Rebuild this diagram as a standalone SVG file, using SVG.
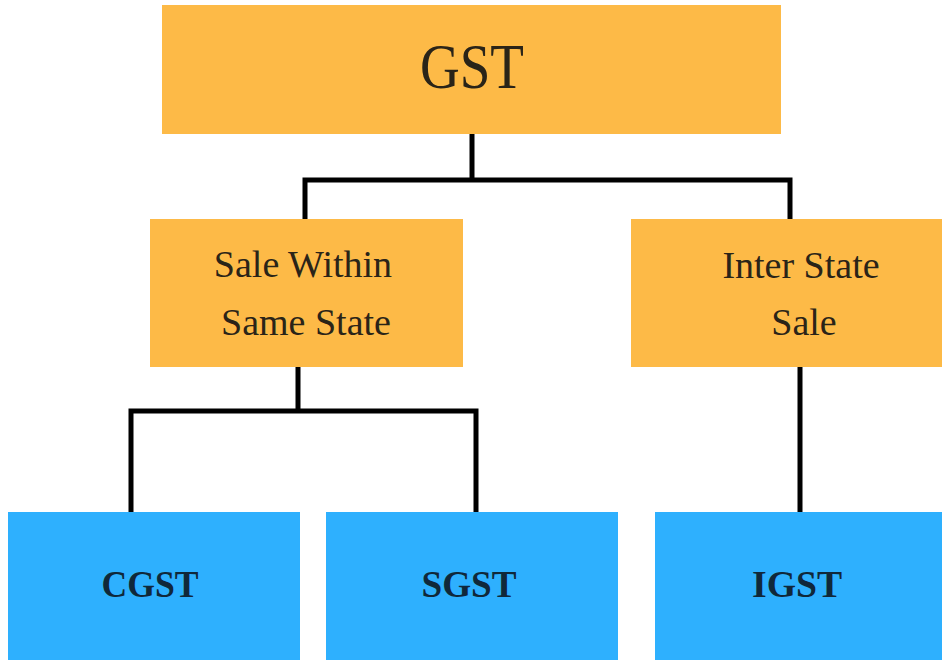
<svg xmlns="http://www.w3.org/2000/svg" width="942" height="660" viewBox="0 0 942 660">
<style>
.orange{fill:#FDBA47}
.blue{fill:#2EB0FE}
.t{font-family:"Liberation Serif","Times New Roman",serif;fill:#2a2418;text-anchor:middle}
.b{font-family:"Liberation Serif","Times New Roman",serif;fill:#10283a;text-anchor:middle;font-weight:bold}
.conn{stroke:#000;stroke-width:5;fill:none;stroke-linecap:square}
</style>
<rect width="942" height="660" fill="#fff"/>
<g id="connectors">
<path class="conn" d="M472 134 V180 M305 219 V180 H790 V219"/>
<path class="conn" d="M298 367 V411 M131 512 V411 H476 V512"/>
<path class="conn" d="M800 367 V512"/>
</g>
<g id="gst">
<rect class="orange" x="162" y="5" width="619" height="129"/>
<text class="t" x="472" y="88" font-size="64" textLength="104" lengthAdjust="spacingAndGlyphs">GST</text>
</g>
<g id="sale-within">
<rect class="orange" x="150" y="219" width="313" height="148"/>
<text class="t" x="303" y="277" font-size="38">Sale Within</text>
<text class="t" x="306" y="335" font-size="38">Same State</text>
</g>
<g id="inter-state">
<rect class="orange" x="631" y="219" width="311" height="148"/>
<text class="t" x="801" y="278" font-size="38">Inter State</text>
<text class="t" x="804" y="335" font-size="38">Sale</text>
</g>
<g id="cgst">
<rect class="blue" x="8" y="512" width="292" height="148"/>
<text class="b" x="150" y="597" font-size="38" textLength="97" lengthAdjust="spacingAndGlyphs">CGST</text>
</g>
<g id="sgst">
<rect class="blue" x="326" y="512" width="292" height="148"/>
<text class="b" x="469" y="597" font-size="38" textLength="95" lengthAdjust="spacingAndGlyphs">SGST</text>
</g>
<g id="igst">
<rect class="blue" x="655" y="512" width="287" height="148"/>
<text class="b" x="797" y="597" font-size="38" textLength="90" lengthAdjust="spacingAndGlyphs">IGST</text>
</g>
</svg>
